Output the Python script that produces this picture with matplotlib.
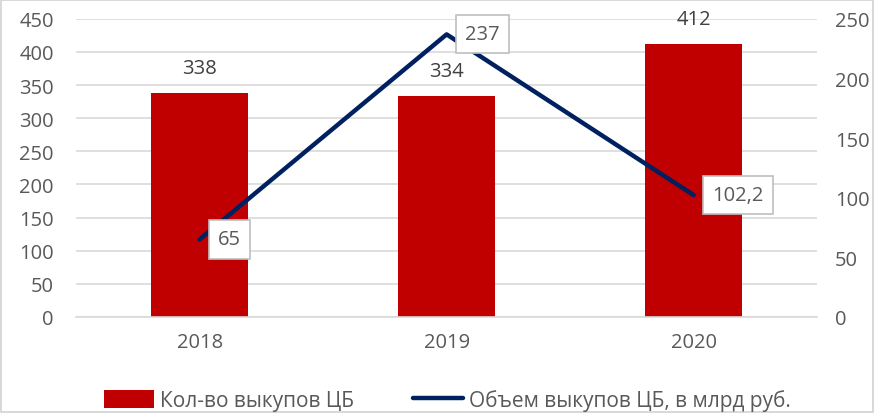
import matplotlib.pyplot as plt
import numpy as np

# Chart data
years = ["2018", "2019", "2020"]
buyback_count = [338, 334, 412]
buyback_volume = [65, 237, 102.2]
volume_labels = ["65", "237", "102,2"]

plt.rcParams['font.family'] = ['Open Sans', 'DejaVu Sans']

fig = plt.figure(figsize=(8.74, 4.14), dpi=100)
fig.patch.set_edgecolor("#d9d9d9")
fig.patch.set_linewidth(1.5)
ax = fig.add_axes([0.087, 0.232, 0.848, 0.720])
ax2 = ax.twinx()

x = np.arange(len(years))
text_color = "#595959"
fs = 14.5

# Bars on the left axis
ax.bar(x, buyback_count, width=0.39, color="#C00000", zorder=2,
       label="Кол-во выкупов ЦБ")
for xi, v in zip(x, buyback_count):
    ax.text(xi, v + 22, str(v), ha="center", va="bottom", fontsize=fs, color="#404040")

ax.set_xlim(-0.5, 2.5)
ax.set_ylim(0, 450)
ax.set_yticks(range(0, 451, 50))
ax.set_xticks(x)
ax.set_xticklabels(years)
ax.grid(axis="y", color="#d9d9d9", linewidth=1.2, zorder=0)
ax.set_axisbelow(True)
ax.tick_params(axis="both", length=0, labelsize=fs, labelcolor=text_color)
ax.tick_params(axis="x", pad=11)
ax.tick_params(axis="y", pad=16)
for s in ax.spines.values():
    s.set_visible(False)
ax.spines["bottom"].set_visible(True)
ax.spines["bottom"].set_color("#d9d9d9")
ax.spines["bottom"].set_linewidth(1.2)

# Line on the right axis
ax2.plot(x, buyback_volume, color="#002060", linewidth=3.2, solid_capstyle="round",
         label="Объем выкупов ЦБ, в млрд руб.")
ax2.set_ylim(0, 250)
ax2.set_yticks(range(0, 251, 50))
ax2.tick_params(axis="y", length=0, labelsize=fs, labelcolor=text_color, pad=13)
for s in ax2.spines.values():
    s.set_visible(False)

box = dict(boxstyle="square,pad=0.45", fc="white", ec="#bfbfbf", lw=1.2)
for xi, v, lab in zip(x, buyback_volume, volume_labels):
    ax2.text(xi + 0.075, v, lab, ha="left", va="center", fontsize=fs,
             color=text_color, bbox=box, zorder=5)

# Legend
h1, l1 = ax.get_legend_handles_labels()
h2, l2 = ax2.get_legend_handles_labels()
fig.legend(h1 + h2, l1 + l2, loc="center", bbox_to_anchor=(0.512, 0.031), ncol=2,
           frameon=False, fontsize=15, labelcolor=text_color, handlelength=2.4,
           handleheight=0.9, handletextpad=0.3, columnspacing=2.8)

fig.savefig("out.png", dpi=100)
